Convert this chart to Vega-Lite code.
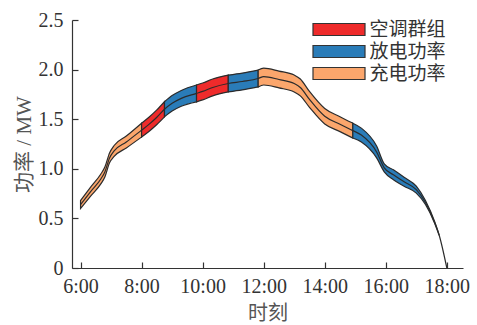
{
  "$schema": "https://vega.github.io/schema/vega-lite/v6.json",
  "width": 391,
  "height": 248,
  "autosize": {"type": "none"},
  "padding": {"left": 72, "top": 20, "right": 14, "bottom": 57},
  "background": "white",
  "config": {
    "view": {"stroke": null},
    "font": "Liberation Serif, Noto Sans CJK SC",
    "axis": {
      "domainColor": "#333",
      "domainWidth": 1.2,
      "tickColor": "#333",
      "tickWidth": 1.2,
      "tickSize": -6,
      "grid": false,
      "labelFont": "Liberation Serif",
      "labelFontSize": 20,
      "labelColor": "#333",
      "titleFont": "Liberation Serif, Noto Sans CJK SC",
      "titleFontSize": 20,
      "titleFontWeight": "normal",
      "titleColor": "#555"
    }
  },
  "datasets": {
    "band": [
      {"seg": 1, "type": "充电功率", "t": 6.0, "lo": 0.6, "hi": 0.68},
      {"seg": 1, "type": "充电功率", "t": 6.33, "lo": 0.725, "hi": 0.815},
      {"seg": 1, "type": "充电功率", "t": 6.67, "lo": 0.85, "hi": 0.95},
      {"seg": 1, "type": "充电功率", "t": 6.8, "lo": 0.92, "hi": 1.02},
      {"seg": 1, "type": "充电功率", "t": 6.95, "lo": 1.06, "hi": 1.16},
      {"seg": 1, "type": "充电功率", "t": 7.1, "lo": 1.125, "hi": 1.235},
      {"seg": 1, "type": "充电功率", "t": 7.5, "lo": 1.21, "hi": 1.33},
      {"seg": 1, "type": "充电功率", "t": 8.0, "lo": 1.32, "hi": 1.46},
      {"seg": 2, "type": "空调群组", "t": 8.0, "lo": 1.32, "hi": 1.46},
      {"seg": 2, "type": "空调群组", "t": 8.25, "lo": 1.378, "hi": 1.522},
      {"seg": 2, "type": "空调群组", "t": 8.5, "lo": 1.446, "hi": 1.594},
      {"seg": 2, "type": "空调群组", "t": 8.75, "lo": 1.524, "hi": 1.676},
      {"seg": 3, "type": "放电功率", "t": 8.75, "lo": 1.524, "hi": 1.676},
      {"seg": 3, "type": "放电功率", "t": 9.0, "lo": 1.582, "hi": 1.738},
      {"seg": 3, "type": "放电功率", "t": 9.3, "lo": 1.63, "hi": 1.79},
      {"seg": 3, "type": "放电功率", "t": 9.8, "lo": 1.675, "hi": 1.845},
      {"seg": 4, "type": "空调群组", "t": 9.8, "lo": 1.675, "hi": 1.845},
      {"seg": 4, "type": "空调群组", "t": 10.0, "lo": 1.695, "hi": 1.865},
      {"seg": 4, "type": "空调群组", "t": 10.33, "lo": 1.735, "hi": 1.905},
      {"seg": 4, "type": "空调群组", "t": 10.84, "lo": 1.775, "hi": 1.945},
      {"seg": 5, "type": "放电功率", "t": 10.84, "lo": 1.775, "hi": 1.945},
      {"seg": 5, "type": "放电功率", "t": 11.3, "lo": 1.795, "hi": 1.965},
      {"seg": 5, "type": "放电功率", "t": 11.82, "lo": 1.825, "hi": 1.995},
      {"seg": 6, "type": "充电功率", "t": 11.82, "lo": 1.825, "hi": 1.995},
      {"seg": 6, "type": "充电功率", "t": 12.0, "lo": 1.845, "hi": 2.015},
      {"seg": 6, "type": "充电功率", "t": 12.5, "lo": 1.815, "hi": 1.985},
      {"seg": 6, "type": "充电功率", "t": 13.0, "lo": 1.775, "hi": 1.945},
      {"seg": 6, "type": "充电功率", "t": 13.2, "lo": 1.735, "hi": 1.905},
      {"seg": 6, "type": "充电功率", "t": 13.5, "lo": 1.62, "hi": 1.78},
      {"seg": 6, "type": "充电功率", "t": 14.0, "lo": 1.452, "hi": 1.608},
      {"seg": 6, "type": "充电功率", "t": 14.5, "lo": 1.375, "hi": 1.525},
      {"seg": 6, "type": "充电功率", "t": 14.92, "lo": 1.31, "hi": 1.46},
      {"seg": 7, "type": "放电功率", "t": 14.92, "lo": 1.31, "hi": 1.46},
      {"seg": 7, "type": "放电功率", "t": 15.2, "lo": 1.27, "hi": 1.41},
      {"seg": 7, "type": "放电功率", "t": 15.7, "lo": 1.11, "hi": 1.23},
      {"seg": 7, "type": "放电功率", "t": 15.95, "lo": 0.97, "hi": 1.05},
      {"seg": 7, "type": "放电功率", "t": 16.25, "lo": 0.89, "hi": 0.99},
      {"seg": 7, "type": "放电功率", "t": 16.6, "lo": 0.825, "hi": 0.915},
      {"seg": 7, "type": "放电功率", "t": 17.0, "lo": 0.755, "hi": 0.825},
      {"seg": 7, "type": "放电功率", "t": 17.3, "lo": 0.64, "hi": 0.68},
      {"seg": 7, "type": "放电功率", "t": 17.6, "lo": 0.452, "hi": 0.468},
      {"seg": 7, "type": "放电功率", "t": 17.75, "lo": 0.33, "hi": 0.33}
    ],
    "mid": [
      {"t": 6.0, "v": 0.64},
      {"t": 6.33, "v": 0.77},
      {"t": 6.67, "v": 0.9},
      {"t": 6.8, "v": 0.97},
      {"t": 6.95, "v": 1.11},
      {"t": 7.1, "v": 1.18},
      {"t": 7.5, "v": 1.27},
      {"t": 8.0, "v": 1.39},
      {"t": 8.25, "v": 1.45},
      {"t": 8.5, "v": 1.52},
      {"t": 8.75, "v": 1.6},
      {"t": 9.0, "v": 1.66},
      {"t": 9.3, "v": 1.71},
      {"t": 9.8, "v": 1.76},
      {"t": 10.0, "v": 1.78},
      {"t": 10.33, "v": 1.82},
      {"t": 10.84, "v": 1.86},
      {"t": 11.3, "v": 1.88},
      {"t": 11.82, "v": 1.91},
      {"t": 12.0, "v": 1.93},
      {"t": 12.5, "v": 1.9},
      {"t": 13.0, "v": 1.86},
      {"t": 13.2, "v": 1.82},
      {"t": 13.5, "v": 1.7},
      {"t": 14.0, "v": 1.53},
      {"t": 14.5, "v": 1.45},
      {"t": 14.92, "v": 1.385},
      {"t": 15.2, "v": 1.34},
      {"t": 15.7, "v": 1.17},
      {"t": 15.95, "v": 1.01},
      {"t": 16.25, "v": 0.94},
      {"t": 16.6, "v": 0.87},
      {"t": 17.0, "v": 0.79},
      {"t": 17.3, "v": 0.66},
      {"t": 17.6, "v": 0.46},
      {"t": 17.75, "v": 0.33},
      {"t": 18.0, "v": 0.0}
    ]
  },
  "layer": [
    {
      "data": {"name": "band"},
      "mark": {"type": "area", "stroke": "#2b2b2b", "strokeWidth": 1.2, "interpolate": "monotone", "opacity": 1},
      "encoding": {
        "x": {
          "field": "t", "type": "quantitative",
          "scale": {"domain": [5.72, 18.53], "nice": false, "zero": false},
          "axis": {"title": "时刻", "values": [6, 8, 10, 12, 14, 16, 18], "labelExpr": "floor(datum.value) + ':00'", "labelPadding": 14, "titlePadding": 7}
        },
        "y": {
          "field": "lo", "type": "quantitative",
          "scale": {"domain": [0, 2.5], "nice": false},
          "axis": {"title": "功率 / MW", "titleFontSize": 21, "values": [0, 0.5, 1, 1.5, 2, 2.5], "labelExpr": "datum.value == 0 ? '0' : format(datum.value, '.1f')", "labelPadding": 15, "titlePadding": 4}
        },
        "y2": {"field": "hi"},
        "color": {
          "field": "type", "type": "nominal",
          "scale": {"domain": ["空调群组", "放电功率", "充电功率"], "range": ["#ee2b2b", "#2a7cb8", "#fba66c"]},
          "legend": {
            "title": null,
            "orient": "none",
            "legendX": 257.5,
            "legendY": 0,
            "symbolType": "M-4,-0.92H4V0.92H-4Z",
            "symbolSize": 169,
            "symbolStrokeColor": "#333",
            "symbolStrokeWidth": 1.2,
            "symbolOpacity": 1,
            "labelFont": "Liberation Serif, Noto Sans CJK SC",
            "labelFontSize": 19,
            "labelColor": "#333",
            "labelOffset": 21,
            "rowPadding": 2
          }
        },
        "detail": {"field": "seg"}
      }
    },
    {
      "data": {"name": "mid"},
      "mark": {"type": "line", "color": "#2b2b2b", "strokeWidth": 1.2, "interpolate": "monotone"},
      "encoding": {
        "x": {"field": "t", "type": "quantitative"},
        "y": {"field": "v", "type": "quantitative"}
      }
    }
  ]
}
